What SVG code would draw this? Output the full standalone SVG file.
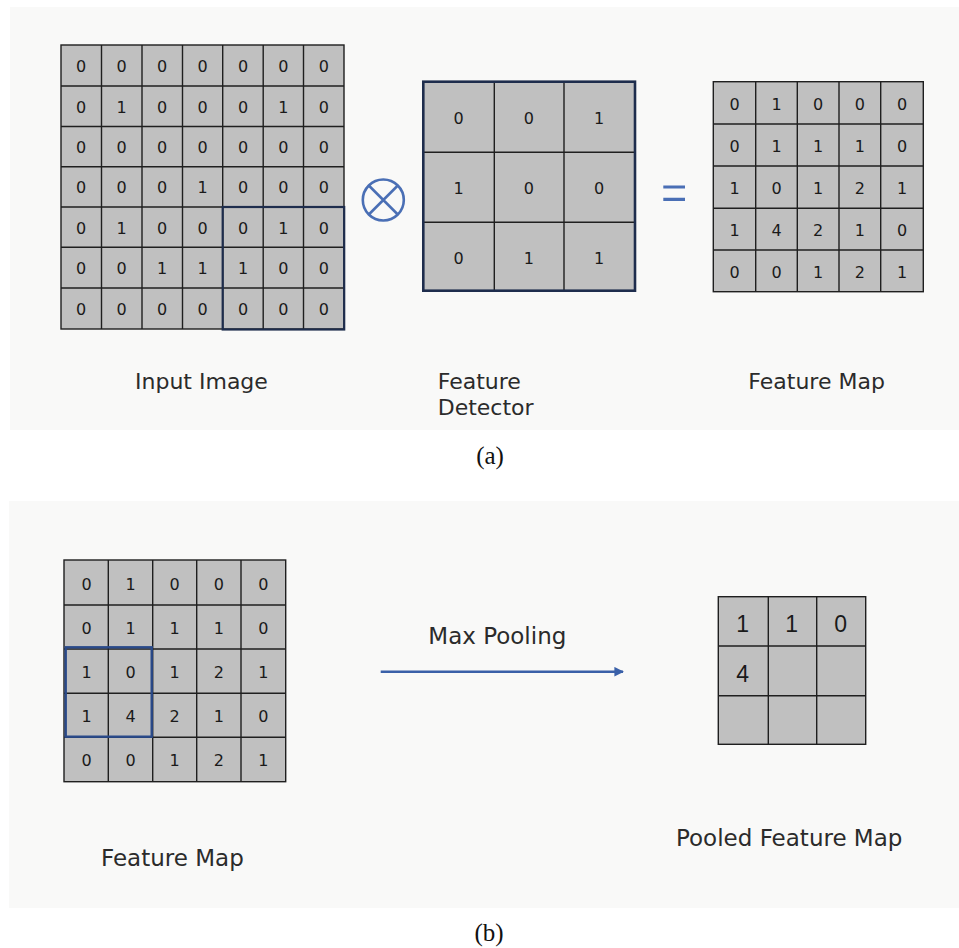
<svg xmlns="http://www.w3.org/2000/svg" width="959" height="948" viewBox="0 0 959 948">
  <style>
    .panel { fill: #f9f9f8; }
    .cell { fill: #c0c0c0; stroke: #1f1f1f; stroke-width: 1.4; }
    .grid { stroke: #1f1f1f; stroke-width: 1.4; fill: none; }
    .num { font-family: "DejaVu Sans", Verdana, sans-serif; font-size: 16px; fill: #1a1a1a; text-anchor: middle; }
    .big { font-family: "Liberation Sans", Arial, sans-serif; font-size: 23px; fill: #1a1a1a; text-anchor: middle; }
    .label { font-family: "DejaVu Sans", Verdana, sans-serif; font-size: 22px; fill: #2b2b2b; }
    .label2 { font-family: "DejaVu Sans", Verdana, sans-serif; font-size: 23px; fill: #2b2b2b; }
    .cap { font-family: "Liberation Serif", "Times New Roman", serif; font-size: 25px; fill: #111; text-anchor: middle; }
    .sym { stroke: #4a6fb5; fill: none; }
    .window { fill: none; stroke: #1e2d4d; stroke-width: 2.2; }
  </style>
  <defs>
    <marker id="head" viewBox="0 0 10 10" refX="9" refY="5" markerWidth="4" markerHeight="4" orient="auto" markerUnits="strokeWidth">
      <path d="M0,0 L10,5 L0,10 Z" fill="#3a60a8"/>
    </marker>
  </defs>

  <rect width="959" height="948" fill="#ffffff"/>
  <!-- panel backgrounds -->
  <rect class="panel" x="10" y="7" width="949" height="423"/>
  <rect class="panel" x="9" y="501" width="950" height="407"/>

  <!-- (a) 7x7 input image -->
  <g id="input-image">
    <rect class="cell" x="61" y="45" width="283" height="284"/>
    <path class="grid" d="M101.5,45V329M142,45V329M182.5,45V329M222.7,45V329M263.2,45V329M303.5,45V329
                          M61,86H344M61,126.5H344M61,166.8H344M61,207H344M61,247.3H344M61,288H344"/>
    <g class="num">
      <text x="81.2" y="72">0</text><text x="121.7" y="72">0</text><text x="162.2" y="72">0</text><text x="202.6" y="72">0</text><text x="243" y="72">0</text><text x="283.4" y="72">0</text><text x="323.8" y="72">0</text>
      <text x="81.2" y="112.7">0</text><text x="121.7" y="112.7">1</text><text x="162.2" y="112.7">0</text><text x="202.6" y="112.7">0</text><text x="243" y="112.7">0</text><text x="283.4" y="112.7">1</text><text x="323.8" y="112.7">0</text>
      <text x="81.2" y="153.1">0</text><text x="121.7" y="153.1">0</text><text x="162.2" y="153.1">0</text><text x="202.6" y="153.1">0</text><text x="243" y="153.1">0</text><text x="283.4" y="153.1">0</text><text x="323.8" y="153.1">0</text>
      <text x="81.2" y="193.4">0</text><text x="121.7" y="193.4">0</text><text x="162.2" y="193.4">0</text><text x="202.6" y="193.4">1</text><text x="243" y="193.4">0</text><text x="283.4" y="193.4">0</text><text x="323.8" y="193.4">0</text>
      <text x="81.2" y="233.6">0</text><text x="121.7" y="233.6">1</text><text x="162.2" y="233.6">0</text><text x="202.6" y="233.6">0</text><text x="243" y="233.6">0</text><text x="283.4" y="233.6">1</text><text x="323.8" y="233.6">0</text>
      <text x="81.2" y="274.1">0</text><text x="121.7" y="274.1">0</text><text x="162.2" y="274.1">1</text><text x="202.6" y="274.1">1</text><text x="243" y="274.1">1</text><text x="283.4" y="274.1">0</text><text x="323.8" y="274.1">0</text>
      <text x="81.2" y="315">0</text><text x="121.7" y="315">0</text><text x="162.2" y="315">0</text><text x="202.6" y="315">0</text><text x="243" y="315">0</text><text x="283.4" y="315">0</text><text x="323.8" y="315">0</text>
    </g>
    <!-- 3x3 receptive window -->
    <rect class="window" x="222.7" y="207" width="121.5" height="122.5"/>
    <text class="label" x="135" y="389">Input Image</text>
  </g>

  <!-- convolution operator -->
  <g id="op-conv">
    <circle class="sym" cx="383.3" cy="200" r="20.5" stroke-width="2.6"/>
    <path class="sym" stroke-width="2.6" d="M368.8,185.5L397.8,214.5M397.8,185.5L368.8,214.5"/>
  </g>

  <!-- (a) 3x3 feature detector -->
  <g id="feature-detector">
    <rect class="cell" x="423.3" y="81.7" width="211.7" height="209"/>
    <path class="grid" d="M494.3,81.7V290.7M564,81.7V290.7M423.3,152.3H635M423.3,222.3H635"/>
    <rect x="423.3" y="81.7" width="211.7" height="209" fill="none" stroke="#1e2d4d" stroke-width="2.6"/>
    <g class="num">
      <text x="458.6" y="123.5">0</text><text x="528.8" y="123.5">0</text><text x="599" y="123.5">1</text>
      <text x="458.6" y="194">1</text><text x="528.8" y="194">0</text><text x="599" y="194">0</text>
      <text x="458.6" y="263.5">0</text><text x="528.8" y="263.5">1</text><text x="599" y="263.5">1</text>
    </g>
    <text class="label" x="437.7" y="389">Feature</text>
    <text class="label" x="437.7" y="415">Detector</text>
  </g>

  <!-- equals sign -->
  <g id="op-equals">
    <path class="sym" stroke-width="3.2" d="M663.3,187H685M663.3,199.3H685"/>
  </g>

  <!-- (a) 5x5 feature map -->
  <g id="feature-map-a">
    <rect class="cell" x="713.3" y="81.7" width="210" height="210"/>
    <path class="grid" d="M755.7,81.7V291.7M797.3,81.7V291.7M839,81.7V291.7M880.7,81.7V291.7
                          M713.3,124H923.3M713.3,166H923.3M713.3,208.3H923.3M713.3,250H923.3"/>
    <g class="num">
      <text x="734.5" y="110">0</text><text x="776.5" y="110">1</text><text x="818.2" y="110">0</text><text x="859.8" y="110">0</text><text x="902" y="110">0</text>
      <text x="734.5" y="152">0</text><text x="776.5" y="152">1</text><text x="818.2" y="152">1</text><text x="859.8" y="152">1</text><text x="902" y="152">0</text>
      <text x="734.5" y="194">1</text><text x="776.5" y="194">0</text><text x="818.2" y="194">1</text><text x="859.8" y="194">2</text><text x="902" y="194">1</text>
      <text x="734.5" y="236">1</text><text x="776.5" y="236">4</text><text x="818.2" y="236">2</text><text x="859.8" y="236">1</text><text x="902" y="236">0</text>
      <text x="734.5" y="277.7">0</text><text x="776.5" y="277.7">0</text><text x="818.2" y="277.7">1</text><text x="859.8" y="277.7">2</text><text x="902" y="277.7">1</text>
    </g>
    <text class="label" x="748.3" y="389">Feature Map</text>
  </g>

  <text class="cap" x="490" y="463.5">(a)</text>

  <!-- (b) 5x5 feature map -->
  <g id="feature-map-b">
    <rect class="cell" x="64" y="560" width="221.7" height="221.7"/>
    <path class="grid" d="M108.3,560V781.7M152.7,560V781.7M196.7,560V781.7M241,560V781.7
                          M64,605H285.7M64,649H285.7M64,693.3H285.7M64,737.3H285.7"/>
    <g class="num">
      <text x="86.5" y="590">0</text><text x="130.5" y="590">1</text><text x="174.7" y="590">0</text><text x="218.8" y="590">0</text><text x="263.3" y="590">0</text>
      <text x="86.5" y="634">0</text><text x="130.5" y="634">1</text><text x="174.7" y="634">1</text><text x="218.8" y="634">1</text><text x="263.3" y="634">0</text>
      <text x="86.5" y="678">1</text><text x="130.5" y="678">0</text><text x="174.7" y="678">1</text><text x="218.8" y="678">2</text><text x="263.3" y="678">1</text>
      <text x="86.5" y="722">1</text><text x="130.5" y="722">4</text><text x="174.7" y="722">2</text><text x="218.8" y="722">1</text><text x="263.3" y="722">0</text>
      <text x="86.5" y="766">0</text><text x="130.5" y="766">0</text><text x="174.7" y="766">1</text><text x="218.8" y="766">2</text><text x="263.3" y="766">1</text>
    </g>
    <!-- 2x2 pooling window -->
    <rect x="65.7" y="647.3" width="86" height="89.4" fill="none" stroke="#2a4a8a" stroke-width="2.4"/>
    <text class="label2" x="101" y="865.5">Feature Map</text>
  </g>

  <!-- (b) pooled 3x3 map -->
  <g id="pooled-feature-map">
    <rect class="cell" x="718.3" y="596.7" width="147.4" height="147.6"/>
    <path class="grid" d="M768.3,596.7V744.3M816.7,596.7V744.3M718.3,646H865.7M718.3,695.7H865.7"/>
    <g class="big">
      <text x="742.7" y="631.5">1</text><text x="791.7" y="631.5">1</text><text x="840.7" y="631.5">0</text>
      <text x="742.7" y="681.5">4</text>
    </g>
    <text class="label2" x="676" y="845.5">Pooled Feature Map</text>
  </g>

  <!-- connectors -->
  <g id="connectors">
    <text class="label2" x="428.3" y="644">Max Pooling</text>
    <line x1="380.7" y1="671.7" x2="623" y2="671.7" stroke="#3a60a8" stroke-width="2.4" marker-end="url(#head)"/>
  </g>

  <text class="cap" x="489" y="940.5">(b)</text>
</svg>
